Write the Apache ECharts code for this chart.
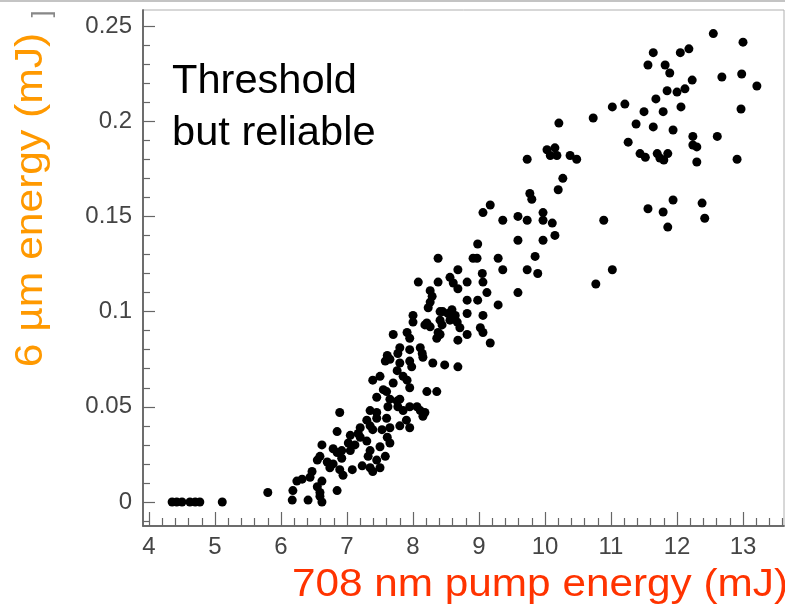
<!DOCTYPE html>
<html><head><meta charset="utf-8">
<script src="https://cdn.jsdelivr.net/npm/echarts@6.0.0/dist/echarts.min.js"></script>
<style>html,body{margin:0;padding:0;background:#fff}#c{width:785px;height:610px}</style>
</head><body><div id="c"></div><script>
// ---- tick labels ----
const xTickLabels = [4, 5, 6, 7, 8, 9, 10, 11, 12, 13];
const yTickLabels = [0, 0.05, 0.1, 0.15, 0.2, 0.25];

// ---- data: [pump energy (mJ), 6 um energy (mJ)] ----
const belowThreshold = [[4.35,0],[4.42,0],[4.50,0],[4.62,0],[4.70,0],[4.77,0],[5.11,0],[5.80,0.005]];

const pump6to7 = [[6.17,0.001],[6.41,0.001],[6.59,0.003],[6.62,0],[6.18,0.006],[6.55,0.008],[6.59,0.005],
  [6.85,0.006],[6.24,0.011],[6.32,0.012],[6.44,0.013],[6.47,0.016],[6.62,0.011],[6.55,0.022],[6.59,0.024],
  [6.62,0.030],[6.70,0.021],[6.74,0.018],[6.79,0.020],[6.89,0.017],[6.94,0.014],[6.79,0.028],[6.85,0.026],
  [6.92,0.027],[6.85,0.037],[6.89,0.047],[6.92,0.023]];

const pump7to8 = [[7.02,0.031],[7.05,0.035],[7.05,0.027],[7.08,0.017],[7.12,0.030],[7.17,0.036],[7.20,0.039],
  [7.20,0.034],[7.23,0.019],[7.30,0.043],[7.35,0.040],[7.39,0.038],[7.30,0.032],[7.35,0.027],[7.45,0.022],
  [7.32,0.024],[7.50,0.029],[7.58,0.024],[7.35,0.018],[7.39,0.016],[7.50,0.018],[7.35,0.048],[7.45,0.047],
  [7.45,0.044],[7.60,0.044],[7.61,0.034],[7.65,0.031],[7.65,0.039],[7.80,0.040],[7.95,0.039],[7.90,0.043],
  [7.45,0.055],[7.55,0.059],[7.60,0.058],[7.65,0.054],[7.76,0.053],[7.80,0.054],[7.62,0.050],[7.77,0.050],
  [7.85,0.048],[7.95,0.050],[7.70,0.0625],[7.39,0.064],[7.50,0.066],[7.76,0.069],[7.85,0.066],[7.91,0.064],
  [7.80,0.073],[7.95,0.060],[7.61,0.077],[7.58,0.074],[7.65,0.075],[7.80,0.081],[7.77,0.078],[7.95,0.080],
  [7.95,0.074],[7.98,0.071],[7.70,0.088],[7.91,0.089],[7.95,0.086],[7.53,0.038]];

const pump8to9 = [[8.06,0.050],[8.18,0.047],[8.11,0.048],[8.15,0.045],[8.21,0.058],[8.36,0.058],[8.11,0.081],
  [8.14,0.078],[8.15,0.076],[8.30,0.073],[8.48,0.072],[8.68,0.071],[8.21,0.094],[8.26,0.092],[8.41,0.088],
  [8.00,0.098],[8.00,0.0945],[8.08,0.1155],[8.18,0.093],[8.38,0.128],[8.68,0.122],[8.38,0.1155],[8.56,0.118],
  [8.61,0.115],[8.68,0.112],[8.82,0.1155],[8.26,0.111],[8.29,0.108],[8.26,0.105],[8.23,0.102],[8.82,0.106],
  [8.98,0.106],[8.41,0.100],[8.45,0.100],[8.53,0.099],[8.59,0.101],[8.64,0.098],[8.82,0.099],[8.41,0.0955],
  [8.44,0.093],[8.56,0.0955],[8.67,0.0945],[8.71,0.0915],[8.82,0.088],[8.38,0.089],[8.36,0.086],[8.68,0.085],
  [8.97,0.128],[8.91,0.128],[8.98,0.1355]];

const pump9to10 = [[9.29,0.128],[9.36,0.122],[9.05,0.120],[9.06,0.1155],[9.12,0.110],[9.29,0.1035],[9.06,0.098],
  [9.02,0.0915],[9.06,0.089],[9.17,0.0835],[9.77,0.162],[9.80,0.159],[9.17,0.156],[9.06,0.152],[9.36,0.148],
  [9.59,0.150],[9.73,0.148],[9.97,0.152],[9.97,0.148],[9.59,0.1375],[9.97,0.1375],[9.85,0.129],[9.73,0.122],
  [9.89,0.120],[9.59,0.110],[9.73,0.180]];

const pump10plus = [[10.11,0.1465],[10.15,0.140],[10.20,0.164],[10.73,0.2017],[10.21,0.199],[10.03,0.185],
  [10.08,0.182],[10.15,0.186],[10.18,0.182],[10.38,0.182],[10.48,0.180],[10.27,0.170],[10.89,0.148],
  [10.77,0.1145],[11.02,0.122],[11.02,0.2075],[11.21,0.209],[11.26,0.189],[11.38,0.1985],[11.44,0.183],
  [11.50,0.205],[11.52,0.181],[11.56,0.2295],[11.56,0.154],[11.64,0.236],[11.64,0.197],[11.68,0.2117],
  [11.70,0.183],[11.74,0.1807],[11.79,0.205],[11.79,0.1523],[11.80,0.1796],[11.82,0.2295],[11.85,0.216],
  [11.86,0.183],[11.86,0.1444],[11.89,0.2253],[11.94,0.1954],[11.94,0.1586],[12.00,0.2153],[12.05,0.236],
  [12.06,0.2075],[12.12,0.217],[12.18,0.238],[12.23,0.2216],[12.24,0.192],[12.24,0.1875],[12.30,0.1865],
  [12.30,0.1786],[12.38,0.157],[12.42,0.149],[12.55,0.246],[12.61,0.192],[12.68,0.2232],[12.91,0.180],
  [12.97,0.2064],[12.98,0.2248],[13.00,0.2415],[13.21,0.2185]];

const points = [].concat(belowThreshold, pump6to7, pump7to8, pump8to9, pump9to10, pump10plus);

// minor tick positions (axis decoration)
const xMinorTicks = [];
for (let i = 21; i <= 68; i++) { if (i % 5 !== 0) xMinorTicks.push(i / 5); }
const yMinorTicks = [];
for (let i = -1; i <= 25; i++) { if (i % 5 !== 0) yMinorTicks.push(i / 100); }

const X_MIN = 3.909, X_MAX = 13.621, Y_MIN = -0.0126, Y_MAX = 0.2584;
const FONT = '"Liberation Sans", Arial, sans-serif';
const axisLine = { onZero: false, lineStyle: { color: '#666', width: 1.5 } };
const tickStyle = { color: '#666', width: 1.2 };

const chart = echarts.init(document.getElementById('c'), null, { renderer: 'canvas' });
chart.setOption({
  animation: false,
  backgroundColor: '#fff',
  grid: { left: 143, right: 1, top: 10, bottom: 84, show: true, borderColor: '#b0b0b0', borderWidth: 1 },
  xAxis: [
    { type: 'value', position: 'bottom', min: X_MIN, max: X_MAX, splitLine: { show: false }, axisLine: axisLine,
      axisTick: { inside: true, length: 14, lineStyle: tickStyle, customValues: xTickLabels },
      axisLabel: { customValues: xTickLabels, color: '#444', fontSize: 24, fontFamily: FONT, margin: 9 } },
    { type: 'value', position: 'bottom', min: X_MIN, max: X_MAX, splitLine: { show: false }, axisLine: axisLine,
      axisTick: { inside: true, length: 8, lineStyle: tickStyle, customValues: xMinorTicks },
      axisLabel: { show: false } }
  ],
  yAxis: [
    { type: 'value', position: 'left', min: Y_MIN, max: Y_MAX, splitLine: { show: false }, axisLine: axisLine,
      axisTick: { inside: true, length: 12, lineStyle: tickStyle, customValues: yTickLabels },
      axisLabel: { customValues: yTickLabels, color: '#444', fontSize: 24, fontFamily: FONT, margin: 11 } },
    { type: 'value', position: 'left', min: Y_MIN, max: Y_MAX, splitLine: { show: false }, axisLine: axisLine,
      axisTick: { inside: true, length: 7, lineStyle: tickStyle, customValues: yMinorTicks },
      axisLabel: { show: false } }
  ],
  series: [{
    type: 'scatter', xAxisIndex: 0, yAxisIndex: 0, data: points,
    symbol: 'circle', symbolSize: 9, itemStyle: { color: '#000', opacity: 1 }
  }],
  graphic: [
    { type: 'rect', shape: { x: 0, y: 0, width: 785, height: 2 }, style: { fill: '#c4c4c4' }, silent: true },
    { type: 'text', x: 172, y: 56, scaleX: 1.04, style: { text: 'Threshold\nbut reliable', font: '40px ' + FONT, fill: '#000', lineHeight: 52 } },
    { type: 'text', x: 32, y: 200, rotation: Math.PI / 2, scaleX: 1.12,
      style: { text: '6 µm energy (mJ)', font: '38px ' + FONT, fill: '#FF9900', align: 'center', verticalAlign: 'middle', textAlign: 'center', textVerticalAlign: 'middle' } },
    { type: 'text', x: 43, y: 14, rotation: Math.PI / 2,
      style: { text: ']', font: '25px ' + FONT, fill: '#888', align: 'center', verticalAlign: 'middle', textAlign: 'center', textVerticalAlign: 'middle' } },
    { type: 'text', x: 540, y: 585, scaleX: 1.085,
      style: { text: '708 nm pump energy (mJ)', font: '39px ' + FONT, fill: '#FF3300', align: 'center', verticalAlign: 'middle', textAlign: 'center', textVerticalAlign: 'middle' } }
  ]
});
</script></body></html>
